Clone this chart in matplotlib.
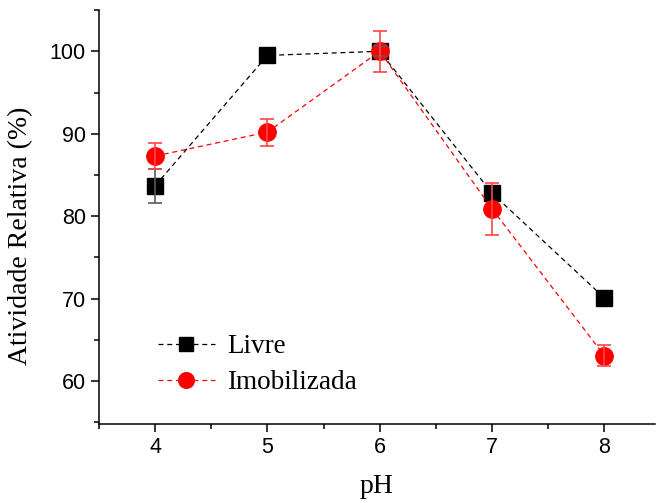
import numpy as np
import matplotlib.pyplot as plt
from matplotlib.ticker import MultipleLocator

# pH profile of relative activity, free vs immobilized enzyme
ph = [4, 5, 6, 7, 8]

livre = [83.7, 99.5, 100.0, 82.8, 70.1]
livre_err = [2.05, 0.0, 0.6, 0.0, 0.0]

imob = [87.3, 90.2, 100.0, 80.9, 63.1]
imob_err = [1.55, 1.65, 2.5, 3.15, 1.3]

SERIF = "Liberation Serif"
SANS = "Liberation Sans"


def draw_errors(ax, x, y, err, color):
    # skip zero-width bars so no stray caps are drawn
    x, y, err = (np.asarray(a, dtype=float) for a in (x, y, err))
    keep = err > 0
    ax.errorbar(x[keep], y[keep], yerr=err[keep], fmt="none", ecolor=color,
                elinewidth=1.2, capsize=5, capthick=1.2, zorder=4)


fig = plt.figure(figsize=(6.57, 5.03), dpi=100)
ax = fig.add_axes([0.1507, 0.157, 0.846, 0.823])

ax.plot(ph, livre, "s", ls="--", lw=0.9, dashes=(4, 3), color="black",
        ms=11, label="Livre", zorder=2)
ax.plot(ph, imob, "o", ls="--", lw=0.9, dashes=(4, 3), color="red",
        ms=12.5, label="Imobilizada", zorder=3)

draw_errors(ax, ph, livre, livre_err, "#5a5a5a")
draw_errors(ax, ph, imob, imob_err, "#ff4444")

ax.set_xlim(3.5, 8.45)
ax.set_ylim(54.8, 105)
ax.xaxis.set_major_locator(MultipleLocator(1))
ax.xaxis.set_minor_locator(MultipleLocator(0.5))
ax.yaxis.set_major_locator(MultipleLocator(10))
ax.yaxis.set_minor_locator(MultipleLocator(5))

for spine in ["top", "right"]:
    ax.spines[spine].set_visible(False)
for spine in ["left", "bottom"]:
    ax.spines[spine].set_linewidth(1.1)

ax.tick_params(which="major", direction="out", length=6, width=1.1)
ax.tick_params(which="minor", direction="out", length=3.5, width=1.1)
for lab in ax.get_xticklabels() + ax.get_yticklabels():
    lab.set_fontfamily(SANS)
    lab.set_fontsize(15.5)

ax.set_xlabel("pH", family=SERIF, fontsize=20, labelpad=11)
ax.set_ylabel("Atividade Relativa (%)", family=SERIF, fontsize=20)
ax.yaxis.set_label_coords(-0.118, 0.454)

leg = ax.legend(loc="lower left", bbox_to_anchor=(0.106, 0.07), frameon=False,
                borderaxespad=0, borderpad=0,
                prop={"family": SERIF, "size": 19.5}, handlelength=2.1,
                handletextpad=0.45, labelspacing=0.4, markerscale=0.9)

fig.savefig("out.png", dpi=100)
